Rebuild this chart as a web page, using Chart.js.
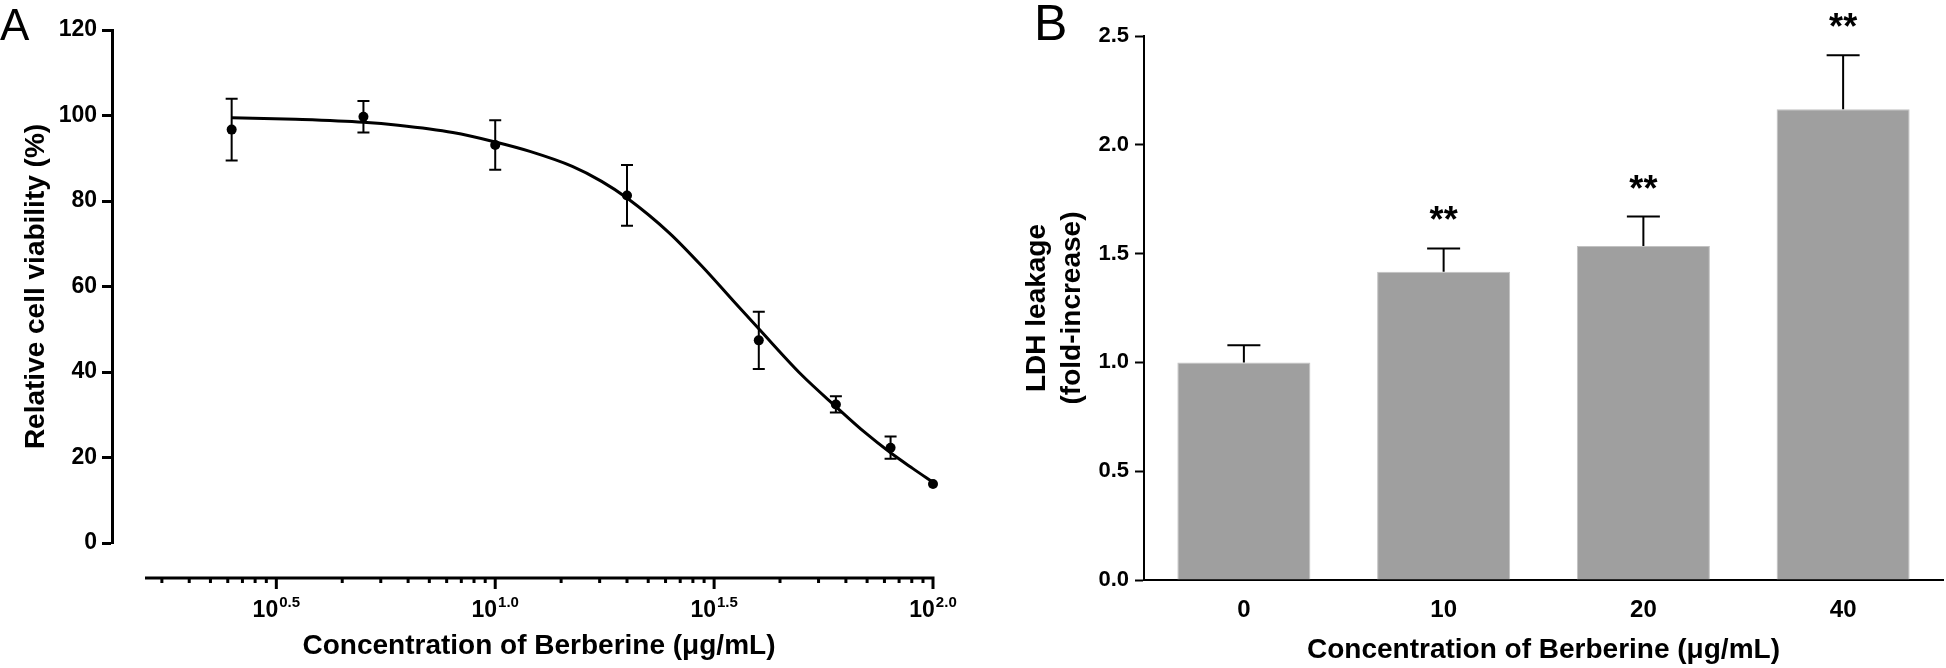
<!DOCTYPE html>
<html>
<head>
<meta charset="utf-8">
<script src="https://cdn.jsdelivr.net/npm/chart.js@4.4.1/dist/chart.umd.min.js"></script>
<style>
  html, body { margin: 0; padding: 0; background: #fff; }
  #wrap { position: relative; width: 1946px; height: 668px; }
  canvas { position: absolute; top: 0; }
  #chartA { left: 0; }
  #chartB { left: 980px; }
</style>
</head>
<body>
<div id="wrap">
  <canvas id="chartA" width="980" height="668"></canvas>
  <canvas id="chartB" width="966" height="668"></canvas>
</div>
<script>
"use strict";
// ---- Panel A: viability vs concentration (log x axis) ----
var concA = [2.5, 5, 10, 20, 40, 60, 80, 100];
var viability = [96.7, 99.7, 93.1, 81.3, 47.4, 32.4, 22.3, 13.8];
var viabilitySd = [7.2, 3.7, 5.8, 7.1, 6.7, 1.9, 2.6, 0];

// fitted curve
var fitConc = [2.5, 3.5, 5, 6, 8, 10, 12, 15, 17.5, 20, 25, 30, 35, 40, 50, 60, 70, 80, 90, 100];
var fitViability = [99.5, 99.1, 98.4, 97.7, 96.0, 93.8, 91.6, 88.1, 84.6, 80.7, 72.5, 64.2, 56.6, 50.1, 39.4, 31.9, 25.8, 21.1, 17.4, 14.2];

var yTicksA = [0, 20, 40, 60, 80, 100, 120];
var xExpMin = 0.2, xExpMax = 2.0;
var xMajorExp = ["0.5", "1.0", "1.5", "2.0"];

// ---- Panel B: LDH leakage ----
var doseB = ["0", "10", "20", "40"];
var ldh = [1.0, 1.417, 1.535, 2.163];
var ldhErr = [0.079, 0.107, 0.135, 0.248];
var ldhStars = ["", "**", "**", "**"];
var yTicksB = [0, 0.5, 1.0, 1.5, 2.0, 2.5];

var FONT = "'Liberation Sans', Arial, Helvetica, sans-serif";
Chart.defaults.font.family = FONT;
Chart.defaults.color = "#000";

// y axis of A sits a bit left of where the x axis starts
var shiftYAxis = {
    id: "shiftYAxis",
    afterLayout: function (chart) {
        var y = chart.scales.y;
        y.left -= 33;
        y.right -= 33;
    }
};

var panelLetter = {
    id: "panelLetter",
    afterDraw: function (chart, args, opts) {
        var ctx = chart.ctx;
        ctx.save();
        ctx.fillStyle = "#000";
        ctx.font = opts.size + "px " + FONT;
        ctx.textAlign = "left";
        ctx.textBaseline = "alphabetic";
        ctx.fillText(opts.text, opts.x, 40);
        ctx.restore();
    }
};

var errorBarsA = {
    id: "errorBarsA",
    beforeDatasetsDraw: function (chart) {
        var ctx = chart.ctx, y = chart.scales.y, x = chart.scales.x;
        ctx.save();
        ctx.strokeStyle = "#000";
        ctx.lineWidth = 2;
        concA.forEach(function (c, i) {
            var sd = viabilitySd[i];
            if (!sd) {
                return;
            }
            var px = x.getPixelForValue(c),
                top = y.getPixelForValue(viability[i] + sd),
                bot = y.getPixelForValue(viability[i] - sd);
            ctx.beginPath();
            ctx.moveTo(px, top); ctx.lineTo(px, bot);
            ctx.moveTo(px - 6, top); ctx.lineTo(px + 6, top);
            ctx.moveTo(px - 6, bot); ctx.lineTo(px + 6, bot);
            ctx.stroke();
        });
        ctx.restore();
    }
};

// detached log axis drawn under the plot, GraphPad style
var logAxisA = {
    id: "logAxisA",
    afterDraw: function (chart) {
        var ctx = chart.ctx, xs = chart.scales.x,
            yLine = chart.chartArea.bottom + 35,
            px = function (e) { return xs.getPixelForValue(Math.pow(10, e)); },
            a, k, e;
        ctx.save();
        ctx.strokeStyle = "#000";
        ctx.lineWidth = 3;
        ctx.beginPath();
        ctx.moveTo(px(xExpMin), yLine);
        ctx.lineTo(px(xExpMax) + 1.5, yLine);
        // minor ticks repeat a decade pattern inside each half decade
        for (a = 0; a < xExpMax; a += 0.5) {
            for (k = 2; k <= 9; k++) {
                e = a + 0.5 * Math.log10(k);
                if (e < xExpMin) {
                    continue;
                }
                ctx.moveTo(px(e), yLine);
                ctx.lineTo(px(e), yLine + 5);
            }
        }
        xMajorExp.forEach(function (s) {
            var x = px(parseFloat(s));
            ctx.moveTo(x, yLine);
            ctx.lineTo(x, yLine + 11);
        });
        ctx.stroke();

        ctx.fillStyle = "#000";
        ctx.textAlign = "left";
        ctx.textBaseline = "alphabetic";
        xMajorExp.forEach(function (s) {
            var x = px(parseFloat(s)), w1, w2, x0;
            ctx.font = "bold 23px " + FONT;
            w1 = ctx.measureText("10").width;
            ctx.font = "bold 15px " + FONT;
            w2 = ctx.measureText(s).width;
            x0 = x - (w1 + w2 + 1) / 2;
            ctx.font = "bold 23px " + FONT;
            ctx.fillText("10", x0, yLine + 39);
            ctx.font = "bold 15px " + FONT;
            ctx.fillText(s, x0 + w1 + 1, yLine + 29);
        });
        ctx.restore();
    }
};

var errorBarsB = {
    id: "errorBarsB",
    afterDatasetsDraw: function (chart) {
        var ctx = chart.ctx, y = chart.scales.y, meta = chart.getDatasetMeta(0);
        ctx.save();
        ctx.strokeStyle = "#000";
        ctx.fillStyle = "#000";
        ctx.lineWidth = 2;
        meta.data.forEach(function (bar, i) {
            var top = y.getPixelForValue(ldh[i] + ldhErr[i]);
            ctx.beginPath();
            ctx.moveTo(bar.x, bar.y);
            ctx.lineTo(bar.x, top);
            ctx.moveTo(bar.x - 16.5, top);
            ctx.lineTo(bar.x + 16.5, top);
            ctx.stroke();
            if (ldhStars[i]) {
                ctx.font = "bold 36px " + FONT;
                ctx.textAlign = "center";
                ctx.textBaseline = "alphabetic";
                ctx.fillText(ldhStars[i], bar.x, top - 16);
            }
        });
        ctx.restore();
    }
};

var titleFont = { size: 28, weight: "bold" };

window.chartA = new Chart(document.getElementById("chartA"), {
    type: "scatter",
    data: {
        datasets: [
            {
                data: fitConc.map(function (c, i) { return { x: c, y: fitViability[i] }; }),
                showLine: true,
                borderColor: "#000",
                borderWidth: 3,
                pointRadius: 0,
                cubicInterpolationMode: "monotone",
                clip: false,
                order: 2
            },
            {
                data: concA.map(function (c, i) { return { x: c, y: viability[i] }; }),
                backgroundColor: "#000",
                borderColor: "#000",
                borderWidth: 0,
                pointRadius: 5,
                clip: false,
                order: 1
            }
        ]
    },
    options: {
        responsive: false,
        animation: false,
        devicePixelRatio: 1,
        layout: { padding: { top: 30, right: 47, bottom: 0, left: 0 } },
        plugins: {
            legend: { display: false },
            tooltip: { enabled: false },
            panelLetter: { text: "A", x: 0, size: 44 }
        },
        scales: {
            x: {
                type: "logarithmic",
                min: Math.pow(10, xExpMin),
                max: Math.pow(10, xExpMax),
                grid: { display: false, drawTicks: false },
                border: { display: false },
                ticks: { display: false },
                title: {
                    display: true,
                    text: "Concentration of Berberine (μg/mL)",
                    font: titleFont,
                    padding: { top: 0, bottom: 5 }
                },
                afterFit: function (s) { s.height = 125; }
            },
            y: {
                min: 0,
                max: 120,
                afterBuildTicks: function (s) {
                    s.ticks = yTicksA.map(function (v) { return { value: v }; });
                },
                ticks: { font: { size: 23, weight: "bold" }, padding: 5 },
                grid: { drawOnChartArea: false, tickLength: 10, tickWidth: 3, tickColor: "#000" },
                border: { display: true, width: 3, color: "#000" },
                title: {
                    display: true,
                    text: "Relative cell viability (%)",
                    font: titleFont,
                    padding: { top: 52, bottom: 0 }
                },
                afterFit: function (s) { s.width = 145; }
            }
        }
    },
    plugins: [shiftYAxis, errorBarsA, logAxisA, panelLetter]
});

window.chartB = new Chart(document.getElementById("chartB"), {
    type: "bar",
    data: {
        labels: doseB,
        datasets: [{
            data: ldh,
            backgroundColor: "#9f9f9f",
            borderColor: "#c2c2c2",
            borderWidth: 1,
            barPercentage: 0.666,
            categoryPercentage: 1
        }]
    },
    options: {
        responsive: false,
        animation: false,
        devicePixelRatio: 1,
        layout: { padding: { top: 36, right: 3, bottom: 0, left: 0 } },
        plugins: {
            legend: { display: false },
            tooltip: { enabled: false },
            panelLetter: { text: "B", x: 54, size: 50 }
        },
        scales: {
            x: {
                grid: { display: false, drawTicks: false },
                border: { display: true, width: 2, color: "#000" },
                ticks: { font: { size: 24, weight: "bold" }, padding: 16 },
                title: {
                    display: true,
                    text: "Concentration of Berberine (μg/mL)",
                    font: titleFont,
                    padding: { top: 0, bottom: 1 }
                },
                afterFit: function (s) { s.height = 88; }
            },
            y: {
                min: 0,
                max: 2.5,
                afterBuildTicks: function (s) {
                    s.ticks = yTicksB.map(function (v) { return { value: v }; });
                },
                ticks: {
                    font: { size: 22, weight: "bold" },
                    padding: 6,
                    callback: function (v) { return v.toFixed(1); }
                },
                grid: { drawOnChartArea: false, tickLength: 9, tickWidth: 2, tickColor: "#000" },
                border: { display: true, width: 2, color: "#000" },
                title: {
                    display: true,
                    text: ["LDH leakage", "(fold-increase)"],
                    font: { size: 28, weight: "bold", lineHeight: 1.25 },
                    padding: { top: 39.5, bottom: 0 }
                },
                afterFit: function (s) { s.width = 164; }
            }
        }
    },
    plugins: [errorBarsB, panelLetter]
});
</script>
</body>
</html>
